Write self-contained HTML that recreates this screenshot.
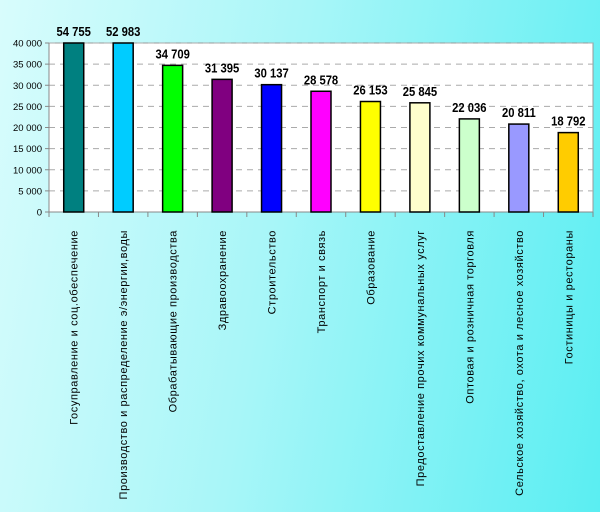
<!DOCTYPE html>
<html><head><meta charset="utf-8"><style>
body{margin:0;width:600px;height:512px;overflow:hidden;background:linear-gradient(100deg,#d8fcfc 0%,#a8f6f8 45%,#5aeef2 100%);font-family:"Liberation Sans",sans-serif;}
</style></head><body>
<svg id="chart" width="600" height="512" xmlns="http://www.w3.org/2000/svg" style="position:absolute;left:0;top:0"></svg>
<script>
const categories=["Госуправление и соц.обеспечение","Производство и распределение э/энергии,воды","Обрабатывающие производства","Здравоохранение","Строительство","Транспорт и связь","Образование","Предоставление прочих коммунальных услуг","Оптовая и розничная торговля","Сельское хозяйство, охота и лесное хозяйство","Гостиницы и рестораны"];
const values=[54755,52983,34709,31395,30137,28578,26153,25845,22036,20811,18792];
const valueLabels=["54 755","52 983","34 709","31 395","30 137","28 578","26 153","25 845","22 036","20 811","18 792"];
const colors=["#008080","#00ccff","#00ff00","#800080","#0000ff","#ff00ff","#ffff00","#ffffcc","#ccffcc","#9999ff","#ffcc00"];
const ticks=[0,5000,10000,15000,20000,25000,30000,35000,40000];
const tickLabels=["0","5 000","10 000","15 000","20 000","25 000","30 000","35 000","40 000"];
const NS="http://www.w3.org/2000/svg",svg=document.getElementById("chart");
const L=49,R=593,T=43,B=212,MAX=40000;
const cw=(R-L)/categories.length;
const y=v=>B-(Math.min(v,MAX)/MAX)*(B-T);
const x=i=>L+cw*(i+0.5);
function mk(t,a){const e=document.createElementNS(NS,t);for(const k in a)e.setAttribute(k,a[k]);svg.appendChild(e);return e;}
let e=mk("rect",{x:L,y:T,width:R-L,height:B-T,fill:"#fff",stroke:"#999"});


ticks.forEach((t,i)=>{
 if(t>0){let g=mk("line",{x1:L,x2:R,y1:y(t),y2:y(t),stroke:"#aaa","stroke-dasharray":"6,5"});
 
 }
 let tk=mk("line",{x1:L-4,x2:L,y1:y(t),y2:y(t),stroke:"#888"});
 
 
 let tl=mk("text",{x:L-7,y:y(t)+3.5,"text-anchor":"end","font-size":"9.5",fill:"#000"});
 tl.textContent=tickLabels[i];
 
 
});
let ax=mk("line",{x1:L,x2:R,y1:B,y2:B,stroke:"#888"});


let ay=mk("line",{x1:L,x2:L,y1:T,y2:B,stroke:"#888"});


for(let i=0;i<=categories.length;i++){let t=mk("line",{x1:L+cw*i,x2:L+cw*i,y1:B,y2:B+5,stroke:"#888"});
 
 }
values.forEach((v,i)=>{
 const bw=20;
 let b=mk("rect",{x:x(i)-bw/2,y:y(v),width:bw,height:B-y(v),fill:colors[i],stroke:"#000","stroke-width":"1.5"});
 
 
 let vl=mk("text",{x:0,y:0,"text-anchor":"middle","font-size":"12.5","font-weight":"bold",fill:"#000",transform:`translate(${x(i)},${y(v)-7}) scale(0.9,1)`});
 vl.textContent=valueLabels[i];
 
 
 let cl=mk("text",{x:0,y:0,"text-anchor":"end","font-size":"11","letter-spacing":"0.6",fill:"#000",transform:`translate(${x(i)+4},230) rotate(-90)`});
 cl.textContent=categories[i];
 
 
});
</script>
</body></html>
